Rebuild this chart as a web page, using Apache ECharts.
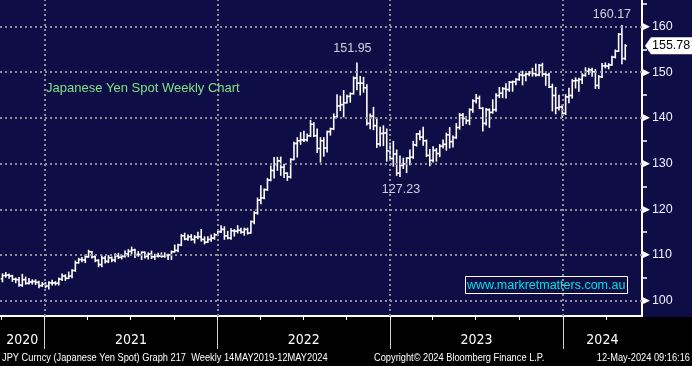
<!DOCTYPE html>
<html><head><meta charset="utf-8">
<script src="https://cdn.jsdelivr.net/npm/echarts@6/dist/echarts.min.js"></script>
<style>html,body{margin:0;padding:0;background:#0e0d46;}#c{width:692px;height:366px;}</style>
</head><body><div id="c"></div>
<script>
// ---------------- DATA (weekly OHLC: [open, high, low, close]) ----------------
const weekStart2020 = '2020-10-04';
const ohlc2020 = [
[104.8,105.8,104.2,105.5],[105.5,106.1,105.2,105.6],[105.6,105.8,105.0,105.4],[105.4,105.5,104.3,104.7],
[104.7,104.9,104.0,104.6],[104.6,105.0,103.2,103.4],[103.4,105.7,103.2,104.6],[104.6,105.1,103.7,103.8],
[103.8,104.8,103.7,104.1],[104.1,104.5,103.7,104.2],[104.2,104.5,103.6,104.0],[104.0,104.2,102.9,103.3],
[103.3,103.9,103.2,103.6]
];
const weekStart2021 = '2021-01-03';
const ohlc2021 = [
[103.6,103.9,102.9,103.2],[103.2,104.1,102.6,103.9],[103.9,104.4,103.5,103.9],[103.9,104.1,103.5,103.8],
[103.8,104.9,103.5,104.7],[104.7,105.8,104.5,105.4],[105.4,105.6,104.5,104.9],[104.9,106.2,104.9,105.4],
[105.4,106.7,105.1,106.6],[106.6,108.6,106.5,108.3],[108.3,109.2,108.3,109.0],[109.0,109.4,108.6,108.9],
[108.9,109.9,108.4,109.6],[109.6,110.97,109.6,110.7],[110.7,110.7,109.4,109.6],[109.6,109.8,108.6,108.8],
[108.8,108.9,107.5,107.9],[107.9,109.7,107.5,109.3],[109.3,109.6,108.3,108.6],[108.6,109.8,108.4,109.4],
[109.4,109.5,108.6,108.9],[108.9,110.2,108.6,109.8],[109.8,110.3,109.3,109.5],[109.5,109.9,109.2,109.7],
[109.7,110.8,109.6,110.2],[110.2,111.1,109.7,110.8],[110.8,111.66,110.4,111.1],[111.1,111.2,109.5,110.1],
[110.1,110.7,109.8,110.1],[110.1,110.6,109.1,110.6],[110.6,110.6,109.4,109.7],[109.7,110.4,109.2,110.2],
[110.2,110.8,109.3,109.6],[109.6,110.1,109.1,109.8],[109.8,110.3,109.6,109.8],[109.8,110.4,109.6,109.7],
[109.7,110.4,109.6,109.9],[109.9,110.1,109.1,110.0],[110.0,110.8,109.1,110.7],[110.7,112.1,110.7,111.0],
[111.0,112.3,110.8,112.2],[112.2,114.4,112.1,114.2],[114.2,114.7,113.4,113.5],[113.5,114.3,113.3,114.0],
[114.0,114.4,113.3,113.4],[113.4,114.2,112.7,113.9],[113.9,114.9,113.6,114.0],[114.0,115.5,113.1,113.4],
[113.4,113.9,112.5,112.8],[112.8,113.9,112.8,113.4],[113.4,114.3,113.1,113.7],[113.7,114.6,113.5,114.4],
[114.4,115.2,114.3,115.1]
];
const weekStart2022 = '2022-01-09';
const ohlc2022 = [
[115.1,116.35,115.0,115.6],[115.6,116.1,113.5,114.2],[114.2,115.1,113.6,113.7],[113.7,115.7,113.5,115.3],
[115.3,115.5,114.2,115.2],[115.2,116.35,114.9,115.4],[115.4,115.8,114.8,115.0],[115.0,115.8,114.4,115.6],
[115.6,115.8,114.65,114.8],[114.8,117.4,114.8,117.3],[117.3,119.4,116.9,119.2],[119.2,122.4,119.0,122.0],
[122.0,125.1,121.3,122.5],[122.5,124.4,122.4,124.3],[124.3,126.7,124.2,126.4],[126.4,129.4,126.3,128.5],
[128.5,131.25,126.9,129.8],[129.8,131.3,128.6,130.6],[130.6,131.35,127.5,129.2],[129.2,129.8,127.0,127.9],
[127.9,127.9,126.4,127.1],[127.1,130.98,126.9,130.9],[130.9,134.6,130.9,134.4],[134.4,135.6,131.5,135.0],
[135.0,136.7,134.3,135.2],[135.2,137.0,134.9,135.2],[135.2,136.4,135.0,136.1],[136.1,139.4,136.0,138.6],
[138.6,138.9,136.0,136.1],[136.1,137.5,132.5,133.3],[133.3,135.6,130.4,135.0],[135.0,135.6,131.7,133.4],
[133.4,137.0,132.6,137.0],[137.0,137.7,136.3,137.6],[137.6,140.8,137.5,140.2],[140.2,144.99,140.2,142.6],
[142.6,144.7,141.7,142.9],[142.9,145.9,140.3,143.3],[143.3,144.9,143.3,144.7],[144.7,145.4,143.5,145.3],
[145.3,148.9,145.3,148.7],[148.7,151.95,146.2,147.6],[147.6,149.0,145.1,147.6],[147.6,148.8,145.7,146.6],
[146.6,147.2,138.5,138.8],[138.8,140.8,137.7,140.4],[140.4,142.25,137.5,138.3],[138.3,139.9,133.6,134.3],
[134.3,137.9,133.9,136.6],[136.6,138.2,134.0,136.7],[136.7,137.5,130.6,132.8],[132.8,134.4,130.8,131.1]
];
const weekStart2023 = '2023-01-08';
const ohlc2023 = [
[131.1,134.8,129.5,132.1],[132.1,132.9,127.5,127.9],[127.9,131.6,127.23,129.6],[129.6,131.1,129.0,129.9],
[129.9,131.2,128.1,131.2],[131.2,132.9,129.8,131.4],[131.4,134.8,131.2,134.1],[134.1,136.5,133.9,136.5],
[136.5,137.1,135.3,135.8],[135.8,137.9,134.1,135.0],[135.0,135.1,131.6,131.8],[131.8,133.0,129.6,130.7],
[130.7,133.6,130.4,132.9],[132.9,133.2,130.6,132.2],[132.2,134.1,131.6,133.8],[133.8,135.1,133.5,134.2],
[134.2,136.6,133.0,136.3],[136.3,137.8,133.5,134.8],[134.8,136.0,133.7,135.7],[135.7,138.7,135.6,137.9],
[137.9,140.9,137.6,140.6],[140.6,140.9,138.4,139.9],[139.9,140.2,138.8,139.4],[139.4,141.9,138.6,141.8],
[141.8,143.9,141.3,143.7],[143.7,145.07,143.3,144.3],[144.3,144.7,142.1,142.1],[142.1,142.2,137.2,138.8],
[138.8,142.0,138.5,141.8],[141.8,141.9,138.0,141.2],[141.2,143.9,141.1,141.8],[141.8,145.2,141.5,144.9],
[144.9,146.6,144.5,145.4],[145.4,146.6,144.5,146.4],[146.4,147.4,144.4,146.2],[146.2,147.9,145.9,147.8],
[147.8,148.0,145.9,147.9],[147.9,148.5,147.3,148.4],[148.4,149.7,148.3,149.4],[149.4,150.16,147.3,149.3],
[149.3,149.8,148.2,149.6],[149.6,150.1,149.3,149.9],[149.9,150.8,149.2,149.7],[149.7,151.7,149.2,149.4],
[149.4,151.6,149.3,151.5],[151.5,151.9,149.2,149.6],[149.6,149.8,147.2,149.4],[149.4,149.7,146.7,146.8],
[146.8,147.3,141.6,144.9],[144.9,146.6,140.95,142.2],[142.2,144.9,141.8,142.4],[142.4,142.8,140.25,141.0]
];
const weekStart2024 = '2024-01-07';
const ohlc2024 = [
[141.0,145.0,140.8,144.6],[144.6,146.4,143.4,144.9],[144.9,148.3,144.4,148.1],[148.1,148.7,146.6,148.2],
[148.2,148.6,145.9,148.4],[148.4,149.6,147.6,149.3],[149.3,150.9,149.2,150.2],[150.2,150.8,149.6,150.5],
[150.5,150.8,149.2,150.1],[150.1,150.5,146.5,147.1],[147.1,149.2,146.5,149.0],[149.0,151.86,148.9,151.4],
[151.4,151.97,151.0,151.35],[151.35,151.8,150.8,151.6],[151.6,153.4,151.6,153.3],[153.3,154.8,153.2,154.6],
[154.6,158.4,154.6,158.3],[158.3,160.17,151.9,153.0],[153.0,155.95,152.8,155.78]
];
const yTickValues = [100,110,120,130,140,150,160];
const yMinorTicks = [105,115,125,135,145,155,165];
const yearStarts = ['2021-01-01','2022-01-01','2023-01-01','2024-01-01'];
const quarterStarts = ['2020-10-01','2021-01-01','2021-04-01','2021-07-01','2021-10-01','2022-01-01','2022-04-01',
  '2022-07-01','2022-10-01','2023-01-01','2023-04-01','2023-07-01','2023-10-01','2024-01-01','2024-04-01'];
const lastPrice = 155.78;
const annDates = ['2022-10-23','2024-05-05','2023-01-22'];
const annValues = [151.95,160.17,127.23];
const annText = ['151.95','160.17','127.23'];
const titleText = 'Japanese Yen Spot Weekly Chart';
const siteText = 'www.markretmatters.com.au';
const footLeft = 'JPY Curncy (Japanese Yen Spot) Graph 217  Weekly 14MAY2019-12MAY2024';
const footMid = 'Copyright\u00A9 2024 Bloomberg Finance L.P.';
const footRight = '12-May-2024 09:16:16';

// ---------------- BUILD ----------------
const DAY = 86400000;
const ts = s => Date.parse(s + (s.length === 10 ? 'T00:00:00Z' : ''));
const blocks = [[weekStart2020, ohlc2020],[weekStart2021, ohlc2021],[weekStart2022, ohlc2022],[weekStart2023, ohlc2023],[weekStart2024, ohlc2024]];
const bars = [];
blocks.forEach(([start, rows]) => {
  const t0 = ts(start);
  rows.forEach((r, i) => bars.push([t0 + i * 7 * DAY, r[0], r[1], r[2], r[3]]));
});
const xMin = Date.UTC(2020, 8, 28, 19);
const xMax = Date.UTC(2024, 5, 16, 10);
const yMin = 96.65, yMax = 165.8;
const yearTs = yearStarts.map(ts);
const quarterTs = quarterStarts.map(ts);
const yearEdges = [xMin].concat(yearTs, [xMax]);
const yearLabelTs = yearEdges.slice(0, -1).map((v, i) => (v + yearEdges[i + 1]) / 2);

const annStyle = [[-4.5, -14.5], [-10, -11], [1, 13]];
const CONDENSED = "'DejaVu Sans Condensed','Liberation Sans Narrow',sans-serif";
const SANS = "'Liberation Sans',Arial,sans-serif";

function renderOHLC(params, api) {
  const t = api.value(0);
  const o = api.coord([t, api.value(1)]);
  const h = api.coord([t, api.value(2)]);
  const l = api.coord([t, api.value(3)]);
  const c = api.coord([t, api.value(4)]);
  const x = h[0];
  const st = {stroke: '#ffffff', lineWidth: 1.6};
  return {type: 'group', children: [
    {type: 'line', shape: {x1: x, y1: h[1] - 0.8, x2: x, y2: l[1] + 0.8}, style: st},
    {type: 'line', shape: {x1: x - 1.8, y1: o[1], x2: x, y2: o[1]}, style: st},
    {type: 'line', shape: {x1: x, y1: c[1], x2: x + 1.8, y2: c[1]}, style: st}
  ]};
}

const chart = echarts.init(document.getElementById('c'), null, {renderer: 'canvas'});
const gridLine = {color: '#8e8e9a', width: 2, type: [2, 3]};
chart.setOption({
  backgroundColor: '#0e0d46',
  animation: false,
  grid: {left: 0, right: 50, top: 0, bottom: 50, containLabel: false, outerBoundsMode: 'none'},
  title: [
    {text: titleText, left: 46, top: 82, padding: 0, textStyle: {color: '#7fe383', fontSize: 13, fontWeight: 'normal', fontFamily: SANS}},
    {text: siteText, left: 465, top: 276, padding: [3, 2, 2, 2], borderColor: '#ffffff', borderWidth: 1,
      textStyle: {color: '#00e1e6', fontSize: 12.5, lineHeight: 13, fontWeight: 'normal', fontFamily: SANS}}
  ],
  xAxis: [
    {type: 'value', min: xMin, max: xMax, position: 'bottom',
      axisLine: {show: true, onZero: false, lineStyle: {color: '#ffffff', width: 2}},
      axisTick: {show: false}, axisLabel: {show: false}, splitLine: {show: false}},
    {type: 'value', min: xMin, max: xMax, position: 'bottom',
      axisLine: {show: false, onZero: false},
      axisTick: {show: true, customValues: yearTs, length: 33, lineStyle: {color: '#cfcfcf', width: 1}},
      axisLabel: {show: true, customValues: yearLabelTs, margin: 17, color: '#ffffff', fontSize: 14, fontFamily: CONDENSED,
        formatter: v => String(new Date(v).getUTCFullYear())},
      splitLine: {show: false}},
    {type: 'value', min: xMin, max: xMax, position: 'bottom',
      axisLine: {show: false, onZero: false},
      axisTick: {show: true, customValues: quarterTs, length: 4, lineStyle: {color: '#ffffff', width: 1}},
      axisLabel: {show: false}, splitLine: {show: false}}
  ],
  yAxis: {type: 'value', position: 'right', min: yMin, max: yMax, scale: true,
    axisLine: {show: true, onZero: false, lineStyle: {color: '#ffffff', width: 2}},
    axisTick: {show: true, customValues: yMinorTicks, length: 5, lineStyle: {color: '#ffffff', width: 1.5}},
    axisLabel: {show: true, customValues: yTickValues, margin: 1,
      formatter: v => '{t|\u25B6}{v|' + v + '}',
      rich: {t: {color: '#ffffff', fontSize: 9, fontFamily: 'DejaVu Sans', padding: [0, 2, 0, 0]},
             v: {color: '#eef0ff', fontSize: 12.5, fontFamily: SANS}}},
    splitLine: {show: false}},
  series: [
    {type: 'line', name: 'grid', data: [], xAxisIndex: 0, yAxisIndex: 0, z: 1, silent: true,
      markLine: {silent: true, symbol: 'none', label: {show: false}, lineStyle: gridLine, animation: false,
        data: yTickValues.map(v => ({yAxis: v})).concat(yearTs.map(t => ({xAxis: t})))}},
    {type: 'custom', name: 'JPY', data: bars, xAxisIndex: 0, yAxisIndex: 0, z: 3, clip: true,
      encode: {x: 0, y: [1, 2, 3, 4]}, renderItem: renderOHLC},
    {type: 'scatter', name: 'ann', xAxisIndex: 0, yAxisIndex: 0, z: 4, symbolSize: 1, silent: true,
      itemStyle: {color: 'rgba(0,0,0,0)'},
      data: annDates.map((d, i) => ({value: [ts(d), annValues[i]],
        label: {show: true, position: 'inside', offset: annStyle[i], formatter: annText[i],
          color: '#ffffff', fontSize: 12.5, fontFamily: SANS}}))}
  ]
});

const py = chart.convertToPixel({yAxisIndex: 0}, lastPrice);
const footStyle = {fill: '#ffffff', fontSize: 11.3, fontFamily: SANS, verticalAlign: 'middle'};
chart.setOption({graphic: [
  {type: 'rect', left: 0, top: 317, shape: {width: 692, height: 49}, style: {fill: '#000000'}, z: -10, silent: true},
  {type: 'polygon', shape: {points: [[645, py], [651, py - 8.5], [692, py - 8.5], [692, py + 8.5], [651, py + 8.5]]},
    style: {fill: '#ffffff'}, z: 50},
  {type: 'text', x: 652, y: py, style: {text: String(lastPrice), fill: '#000000', fontSize: 12.5, fontFamily: SANS,
    verticalAlign: 'middle', align: 'left'}, z: 51},
  {type: 'text', x: 2, y: 357.5, scaleX: 0.82, style: Object.assign({text: footLeft, align: 'left'}, footStyle), z: 20},
  {type: 'text', x: 374, y: 357.5, scaleX: 0.82, style: Object.assign({text: footMid, align: 'left'}, footStyle), z: 20},
  {type: 'text', x: 690, y: 357.5, scaleX: 0.82, style: Object.assign({text: footRight, align: 'right'}, footStyle), z: 20}
]});
</script></body></html>
